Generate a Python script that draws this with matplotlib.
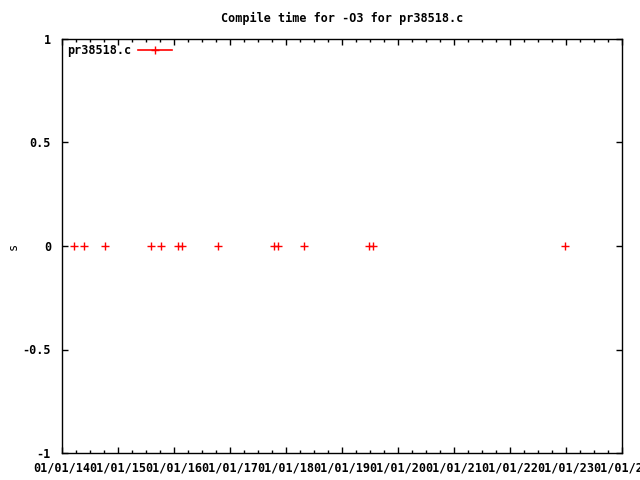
import numpy as np
import pandas as pd
import matplotlib
matplotlib.use('Agg')
import matplotlib.pyplot as plt
import matplotlib.dates as mdates

# compile dates, all times are 0 s
dates = ['2014-03-22', '2014-05-22', '2014-10-10', '2015-08-06', '2015-10-06',
         '2016-01-27', '2016-02-20', '2016-10-12', '2017-10-15', '2017-11-07',
         '2018-04-26', '2019-06-28', '2019-07-22', '2022-12-28']
times = [0, 0, 0, 0, 0, 0, 0, 0, 0, 0, 0, 0, 0, 0]
series_name = 'pr38518.c'
title = 'Compile time for -O3 for pr38518.c'

plt.rcParams['font.family'] = 'DejaVu Sans Mono'
plt.rcParams['font.weight'] = 'bold'
plt.rcParams['font.size'] = 8.5

fig = plt.figure(figsize=(6.4, 4.8), dpi=100)
ax = fig.add_axes([62/640, 1-453/480, 560/640, 414/480])

x = pd.to_datetime(dates)
ax.plot(x, times, linestyle='none', marker='+', color='red', markersize=6,
        markeredgewidth=1, label=series_name)

ax.set_xlim(pd.Timestamp('2014-01-01'), pd.Timestamp('2024-01-01'))
ax.set_ylim(-1, 1)
ax.set_yticks([-1, -0.5, 0, 0.5, 1])
ax.set_yticklabels(['-1', '-0.5', '0', '0.5', '1'])
ax.xaxis.set_major_locator(mdates.YearLocator())
ax.xaxis.set_minor_locator(mdates.MonthLocator(bymonth=[4, 7, 10]))
ax.xaxis.set_major_formatter(mdates.DateFormatter('%m/%d/%y'))

ax.tick_params(axis='both', which='major', direction='in', length=4.5, width=1,
               top=True, right=True, pad=6)
ax.tick_params(axis='x', which='minor', direction='in', length=2, width=1, top=True)
ax.tick_params(axis='y', which='major', pad=8)
for s in ax.spines.values():
    s.set_linewidth(1)

ax.set_title(title, fontsize=8.5, fontweight='bold', pad=12)
ax.set_ylabel('s')
ax.yaxis.set_label_coords(-0.076, 0.5)

# legend: text first, then sample
leg = ax.legend(loc='upper left', frameon=False, markerfirst=False,
                handlelength=2.9, handletextpad=0.6, borderaxespad=0.0)
leg.get_lines()[0].set_linestyle('-')
leg.get_lines()[0].set_linewidth(1.2)

fig.savefig('out.png', dpi=100)
